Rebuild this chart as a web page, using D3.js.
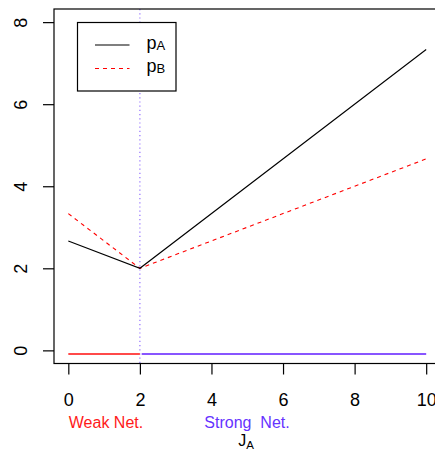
<!DOCTYPE html>
<html>
<head>
<meta charset="utf-8">
<script src="https://cdn.jsdelivr.net/npm/d3@7"></script>
<style>
  body { margin: 0; background: #fff; }
  svg { font-family: "Liberation Sans", Arial, sans-serif; }
</style>
</head>
<body>
<svg id="chart"></svg>
<script>
// values
var jA = [0, 2, 10];
var pA = [2.667, 2.0, 7.333];
var pB = [3.333, 2.0, 4.667];
var xTicks = [0, 2, 4, 6, 8, 10];
var yTicks = [0, 2, 4, 6, 8];
var regimeLevel = -0.09;
var weakRange = [0, 2];
var strongRange = [2.05, 10];
var threshold = 2;

var dim = { width: 435, height: 452 };
var box = { left: 54, top: 9, right: 440.5, bottom: 363.5 };

var svg = d3.select("#chart")
    .attr("width", dim.width)
    .attr("height", dim.height);

// R style: 4% padding around the data range
var xScale = d3.scaleLinear().domain([-0.4, 10.4]).range([box.left, box.right]);
var yScale = d3.scaleLinear().domain([-0.32, 8.32]).range([box.bottom, box.top]);

var line = d3.line()
    .x(d => xScale(d[0]))
    .y(d => yScale(d[1]));

// threshold marker
svg.append("line")
    .attr("x1", xScale(threshold)).attr("x2", xScale(threshold))
    .attr("y1", box.top).attr("y2", box.bottom)
    .attr("stroke", "#9370ff")
    .attr("stroke-width", 1.2)
    .attr("stroke-dasharray", "1.2,3");

// regime bars along the bottom
svg.append("path")
    .datum([[weakRange[0], regimeLevel], [weakRange[1], regimeLevel]])
    .attr("d", line)
    .attr("stroke", "#ff4a4a")
    .attr("stroke-width", 2)
    .attr("fill", "none");

svg.append("path")
    .datum([[strongRange[0], regimeLevel], [strongRange[1], regimeLevel]])
    .attr("d", line)
    .attr("stroke", "#8855ff")
    .attr("stroke-width", 2)
    .attr("fill", "none");

// price curves
svg.append("path")
    .datum(jA.map((j, i) => [j, pB[i]]))
    .attr("d", line)
    .attr("stroke", "#ff0000")
    .attr("stroke-width", 1.1)
    .attr("stroke-dasharray", "4,4")
    .attr("fill", "none");

svg.append("path")
    .datum(jA.map((j, i) => [j, pA[i]]))
    .attr("d", line)
    .attr("stroke", "#000")
    .attr("stroke-width", 1.1)
    .attr("fill", "none");

// plot frame
svg.append("rect")
    .attr("x", box.left).attr("y", box.top)
    .attr("width", box.right - box.left)
    .attr("height", box.bottom - box.top)
    .attr("fill", "none")
    .attr("stroke", "#000")
    .attr("stroke-width", 1.2);

// axes
var xAxis = svg.append("g")
    .attr("transform", "translate(0," + box.bottom + ")")
    .call(d3.axisBottom(xScale).tickValues(xTicks).tickSize(11).tickPadding(18.7).tickFormat(d3.format("d")));
xAxis.select(".domain").remove();
xAxis.selectAll("line").attr("stroke", "#000").attr("stroke-width", 1.2);
xAxis.selectAll("text").attr("font-size", 18).attr("fill", "#000");

var yAxis = svg.append("g")
    .attr("transform", "translate(" + box.left + ",0)")
    .call(d3.axisLeft(yScale).tickValues(yTicks).tickSize(11).tickFormat(d3.format("d")));
yAxis.select(".domain").remove();
yAxis.selectAll("line").attr("stroke", "#000").attr("stroke-width", 1.2);
yAxis.selectAll("text")
    .attr("x", 0).attr("y", 0).attr("dy", 0)
    .attr("text-anchor", "middle")
    .attr("transform", "translate(-27.3,0) rotate(-90)")
    .attr("font-size", 18)
    .attr("fill", "#000");

// regime labels and axis title
svg.append("text")
    .attr("x", 106).attr("y", 428)
    .attr("text-anchor", "middle")
    .attr("font-size", 16)
    .attr("fill", "#ff1a1a")
    .text("Weak Net.");

svg.append("text")
    .attr("x", 247).attr("y", 428)
    .attr("text-anchor", "middle")
    .attr("font-size", 16)
    .attr("fill", "#6633ff")
    .style("white-space", "pre")
    .text("Strong  Net.");

var title = svg.append("text")
    .attr("x", 246).attr("y", 446)
    .attr("text-anchor", "middle")
    .attr("font-size", 16)
    .attr("fill", "#000");
title.append("tspan").text("J");
title.append("tspan").attr("font-size", 11.5).attr("dy", 3).text("A");

// legend
var legend = svg.append("g");
legend.append("rect")
    .attr("x", 77.5).attr("y", 22.5)
    .attr("width", 98.5).attr("height", 68.5)
    .attr("fill", "#fff")
    .attr("stroke", "#000")
    .attr("stroke-width", 1.2);

var legendItems = [
    { name: "p", sub: "A", color: "#000", dash: null },
    { name: "p", sub: "B", color: "#ff0000", dash: "4,4" }
];

legendItems.forEach(function(d, i) {
    var yy = 45 + i * 23.5;
    legend.append("line")
        .attr("x1", 95).attr("x2", 129.5)
        .attr("y1", yy).attr("y2", yy)
        .attr("stroke", d.color)
        .attr("stroke-width", 1.1)
        .attr("stroke-dasharray", d.dash);
    var t = legend.append("text")
        .attr("x", 146.5).attr("y", yy + 3.5)
        .attr("font-size", 18)
        .attr("fill", "#000");
    t.append("tspan").text(d.name);
    t.append("tspan").attr("font-size", 13).attr("dy", 1).text(d.sub);
});
</script>
</body>
</html>
